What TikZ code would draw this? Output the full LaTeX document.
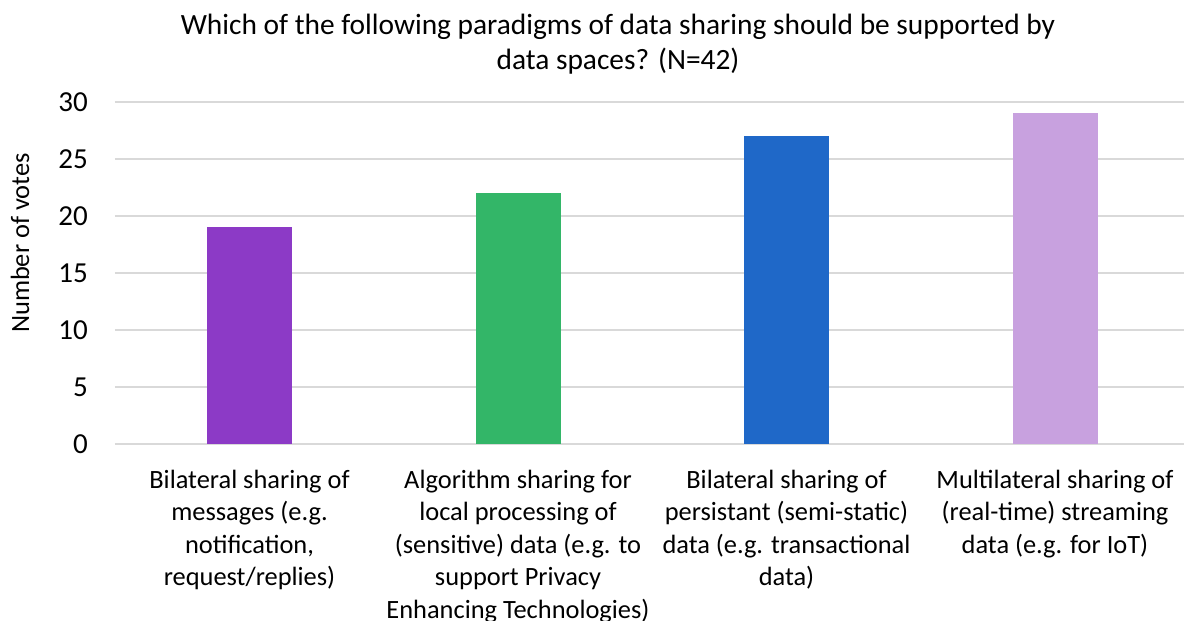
\documentclass[tikz,border=0pt]{standalone}
\usepackage{fontspec}
\setmainfont{Carlito}
\usetikzlibrary{positioning}

\definecolor{barpurple}{RGB}{140,58,198}
\definecolor{bargreen}{RGB}{51,182,104}
\definecolor{barblue}{RGB}{31,104,200}
\definecolor{barlilac}{RGB}{200,161,223}
\definecolor{gridgray}{RGB}{217,217,217}

\begin{document}
\begin{tikzpicture}[x=1pt,y=11.4pt,
    grid/.style={draw=gridgray,line width=1.6pt},
    bar/.style={anchor=south,inner sep=0,minimum width=85pt},
    tick/.style={anchor=east,inner sep=0,font=\fontsize{29}{35}\selectfont},
    cat/.style={anchor=north,inner sep=0,align=center,font=\fontsize{26.4}{32.4}\selectfont}]
   \useasboundingbox (-115,-15.526) rectangle (1069,38.947);
   % gridlines and ticks
   \foreach \v in {0,5,...,30}{
     \draw[grid] (0,\v) -- (1069,\v);
     \node[tick] (t\v) at (-27,\v) {\v};
   }
   % title and axis title
   \node[align=center,anchor=base,inner sep=0,font=\fontsize{29.4}{34.5}\selectfont] (title) at (503,32.85)
     {Which of the following paradigms of data sharing should be supported by\\data spaces? (N=42)};
   \node[rotate=90,inner sep=0,font=\fontsize{26.4}{32}\selectfont] (ytitle) at (-95,17.63) {Number of votes};
   % bars
   \node[bar,fill=barpurple,minimum height=19*11.4pt] (b1) at (134.5,0) {};
   \node[bar,fill=bargreen,minimum height=22*11.4pt] (b2) at (403,0) {};
   \node[bar,fill=barblue,minimum height=27*11.4pt] (b3) at (671.5,0) {};
   \node[bar,fill=barlilac,minimum height=29*11.4pt] (b4) at (940,0) {};
   % category labels
   \node[cat,below=26pt of b1.south] (c1) {Bilateral sharing of\\messages (e.g.\\notification,\\request/replies)};
   \node[cat,below=26pt of b2.south] (c2) {Algorithm sharing for\\local processing of\\(sensitive) data (e.g. to\\support Privacy\\Enhancing Technologies)};
   \node[cat,below=26pt of b3.south] (c3) {Bilateral sharing of\\persistant (semi-static)\\data (e.g. transactional\\data)};
   \node[cat,below=26pt of b4.south] (c4) {Multilateral sharing of\\(real-time) streaming\\data (e.g. for IoT)};
\end{tikzpicture}
\end{document}
